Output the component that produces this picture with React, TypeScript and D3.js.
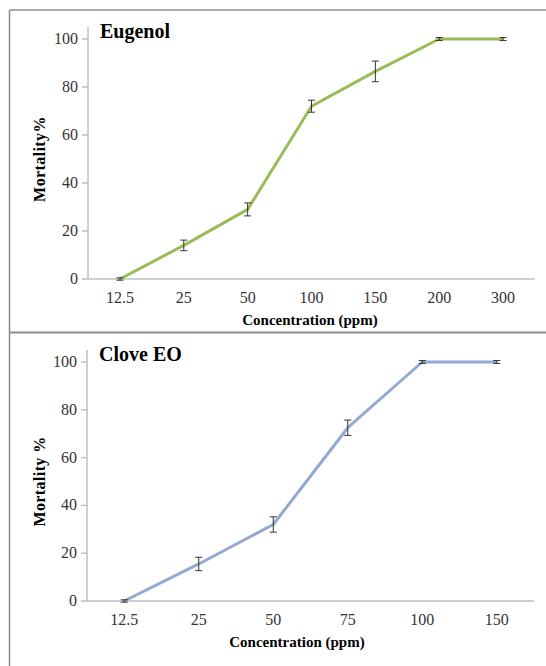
import React from 'react';
import * as d3 from 'd3';

// Eugenol panel
const eugenolConc = ['12.5', '25', '50', '100', '150', '200', '300'];
const eugenolMort = [0, 14, 29, 72, 86.5, 100, 100];
const eugenolErr = [0.5, 2.2, 2.7, 2.5, 4.3, 0.6, 0.6];

// Clove EO panel
const cloveConc = ['12.5', '25', '50', '75', '100', '150'];
const cloveMort = [0, 15.5, 32, 72.5, 100, 100];
const cloveErr = [0.5, 2.8, 3.2, 3.2, 0.6, 0.6];

const yTicks = [0, 20, 40, 60, 80, 100];

const FONT = '"Liberation Serif", "Times New Roman", serif';
const AXIS = '#bfbfbf';
const BORDER = '#8c8c8c';

interface PanelProps {
  title: string;
  yLabel: string;
  cats: string[];
  values: number[];
  errs: number[];
  color: string;
  left: number;
  right: number;
  y0: number;
  y100: number;
  xLabelX: number;
}

const Panel: React.FC<PanelProps> = ({ title, yLabel, cats, values, errs, color, left, right, y0, y100, xLabelX }) => {
  const x = d3.scaleBand().domain(cats).range([left, right]);
  const y = d3.scaleLinear().domain([0, 100]).range([y0, y100]);
  const cx = (c: string) => (x(c) || 0) + x.bandwidth() / 2;

  const line = d3.line<number>()
    .x((d, i) => cx(cats[i]))
    .y(d => y(d));

  const midY = (y(0) + y(100)) / 2;

  return (
    <g>
      {/* axes */}
      <line x1={left} x2={left} y1={y(105)} y2={y0} stroke={AXIS} strokeWidth={1.5} />
      <line x1={left} x2={right} y1={y0} y2={y0} stroke={AXIS} strokeWidth={1.5} />
      {yTicks.map(t => (
        <g key={t}>
          <line x1={left - 6} x2={left} y1={y(t)} y2={y(t)} stroke={AXIS} strokeWidth={1.5} />
          <text x={left - 10} y={y(t) + 5} textAnchor="end" fontSize={16} fill="#333">{t}</text>
        </g>
      ))}
      {cats.map(c => (
        <text key={c} x={cx(c)} y={y0 + 24} textAnchor="middle" fontSize={16} fill="#333">{c}</text>
      ))}

      {/* series */}
      <path d={line(values) || ''} fill="none" stroke={color} strokeWidth={3} strokeLinejoin="round" />
      {values.map((v, i) => {
        const px = cx(cats[i]);
        const top = y(v + errs[i]);
        const bot = y(v - errs[i]);
        return (
          <g key={i} stroke="#333" strokeWidth={1}>
            <line x1={px} x2={px} y1={top} y2={bot} />
            <line x1={px - 3.5} x2={px + 3.5} y1={top} y2={top} />
            <line x1={px - 3.5} x2={px + 3.5} y1={bot} y2={bot} />
          </g>
        );
      })}

      {/* labels */}
      <text x={left + 12} y={y(100) - 1} fontSize={20} fontWeight="bold" fill="#000">{title}</text>
      <text
        transform={`translate(45,${midY}) rotate(-90)`}
        textAnchor="middle"
        fontSize={16}
        fontWeight="bold"
        letterSpacing={0.4}
        fill="#000"
      >{yLabel}</text>
      <text x={xLabelX} y={y0 + 46} textAnchor="middle" fontSize={15} fontWeight="bold" fill="#000">
        Concentration (ppm)
      </text>
    </g>
  );
};

const App: React.FC = () => {
  return (
    <div style={{ position: 'absolute', left: 0, top: 0, background: '#fff' }}>
      <svg width={546} height={666} style={{ display: 'block', fontFamily: FONT }}>
        <rect width={546} height={666} fill="#fff" />
        {/* frames */}
        <line x1={9.5} x2={9.5} y1={10} y2={666} stroke={BORDER} strokeWidth={1.5} />
        <line x1={9.5} x2={546} y1={10} y2={10} stroke={BORDER} strokeWidth={1.5} />
        <line x1={9.5} x2={546} y1={332.5} y2={332.5} stroke={BORDER} strokeWidth={1.8} />

        <Panel
          title="Eugenol"
          yLabel="Mortality%"
          cats={eugenolConc}
          values={eugenolMort}
          errs={eugenolErr}
          color="#9bbb59"
          left={88}
          right={535}
          y0={279}
          y100={39}
          xLabelX={310}
        />
        <Panel
          title="Clove EO"
          yLabel="Mortality %"
          cats={cloveConc}
          values={cloveMort}
          errs={cloveErr}
          color="#92a9d2"
          left={87}
          right={534}
          y0={601}
          y100={362}
          xLabelX={297}
        />
      </svg>
    </div>
  );
};

export default App;
